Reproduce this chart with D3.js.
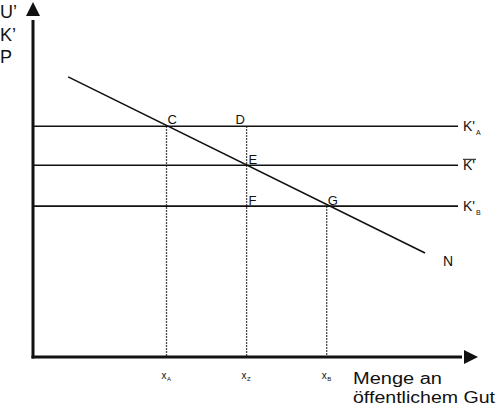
<!DOCTYPE html>
<html><head><meta charset="utf-8">
<script src="https://cdn.jsdelivr.net/npm/d3@7"></script>
<style>body{margin:0;background:#fff}svg{display:block}text{font-family:"Liberation Sans",Arial,sans-serif;fill:#111}</style>
</head><body>
<script>
// Data (abstract units)
const xPoints = [{name:"A", x:3.0},{name:"Z", x:4.8},{name:"B", x:6.6}];
const costLevels = [{label:"K'", sub:"A", y:6.5},{label:"K'", sub:"", bar:true, y:5.4},{label:"K'", sub:"B", y:4.25}];
const demandLine = [{x:0.79, y:7.89},{x:8.81, y:2.93}];
const pointLabels = [
  {t:"C", x:3.0, y:6.5, dx:1, dy:-2},
  {t:"D", x:4.8, y:6.5, dx:-11, dy:-2},
  {t:"E", x:4.8, y:5.4, dx:2, dy:-1},
  {t:"F", x:4.8, y:4.25, dx:2, dy:-1},
  {t:"G", x:6.6, y:4.25, dx:1, dy:-1}
];
const yAxisLabels = ["U’","K’","P"];
const xAxisLabel = ["Menge an","öffentlichem Gut"];
const xAxisLabelLen = [89, 142];

const W=500,H=407;
const svg=d3.select("body").append("svg").attr("width",W).attr("height",H);
const x=d3.scaleLinear().domain([0,10]).range([33,478]);
const y=d3.scaleLinear().domain([0,10]).range([357,2]);
const lineEnd = 458;
const line = d3.line().x(d=>x(d.x)).y(d=>y(d.y));

// horizontal cost lines
svg.selectAll(".h").data(costLevels).enter().append("line")
  .attr("x1",x(0)).attr("x2",lineEnd).attr("y1",d=>y(d.y)).attr("y2",d=>y(d.y))
  .attr("stroke","#111").attr("stroke-width",1.6);

// dotted verticals
const vlines=[{x:3.0,top:6.5},{x:4.8,top:6.5},{x:6.6,top:4.25}];
svg.selectAll(".v").data(vlines).enter().append("line")
  .attr("x1",d=>x(d.x)).attr("x2",d=>x(d.x)).attr("y1",d=>y(d.top)).attr("y2",y(0))
  .attr("stroke","#111").attr("stroke-width",1.3).attr("stroke-dasharray","1.5,1.5");

// demand line N
svg.append("path").datum(demandLine).attr("d",line).attr("fill","none").attr("stroke","#111").attr("stroke-width",1.6);
svg.append("text").attr("x",x(demandLine[1].x)+18).attr("y",y(demandLine[1].y)+13).attr("font-size",14).text("N");

// axes
svg.append("line").attr("x1",x(0)).attr("x2",x(0)).attr("y1",y(0)+1.5).attr("y2",20).attr("stroke","#111").attr("stroke-width",3);
svg.append("path").attr("d",`M${x(0)},2 L${x(0)-7},16 L${x(0)+7},16 Z`).attr("fill","#111");
svg.append("line").attr("x1",x(0)-1.5).attr("x2",462).attr("y1",y(0)).attr("y2",y(0)).attr("stroke","#111").attr("stroke-width",3);
svg.append("path").attr("d",`M478,${y(0)} L464,${y(0)-7} L464,${y(0)+7} Z`).attr("fill","#111");

// cost labels
const cl=svg.selectAll(".cl").data(costLevels).enter().append("g").attr("transform",d=>`translate(${lineEnd+5},${y(d.y)+5})`);
cl.append("text").attr("font-size",14).text(d=>d.label);
cl.append("text").attr("x",13).attr("y",4).attr("font-size",7).text(d=>d.sub);
cl.filter(d=>d.bar).append("line").attr("x1",0).attr("x2",13).attr("y1",-11).attr("y2",-11).attr("stroke","#111").attr("stroke-width",1);

// point labels
svg.selectAll(".pl").data(pointLabels).enter().append("text")
  .attr("x",d=>x(d.x)+d.dx).attr("y",d=>y(d.y)+d.dy).attr("font-size",13).text(d=>d.t);

// x tick labels
const xl=svg.selectAll(".xl").data(xPoints).enter().append("g").attr("transform",d=>`translate(${x(d.x)-5},${y(0)+22})`);
xl.append("text").attr("font-size",10).text("x");
xl.append("text").attr("x",5.5).attr("y",2).attr("font-size",6).text(d=>d.name);

// axis titles
svg.selectAll(".yl").data(yAxisLabels).enter().append("text").attr("x",0).attr("y",(d,i)=>18+i*22.5).attr("font-size",18).text(d=>d);
svg.selectAll(".xt").data(xAxisLabel).enter().append("text").attr("x",353).attr("y",(d,i)=>384+i*19)
  .attr("font-size",16).attr("textLength",(d,i)=>xAxisLabelLen[i]).attr("lengthAdjust","spacingAndGlyphs").text(d=>d);
</script>
</body></html>
